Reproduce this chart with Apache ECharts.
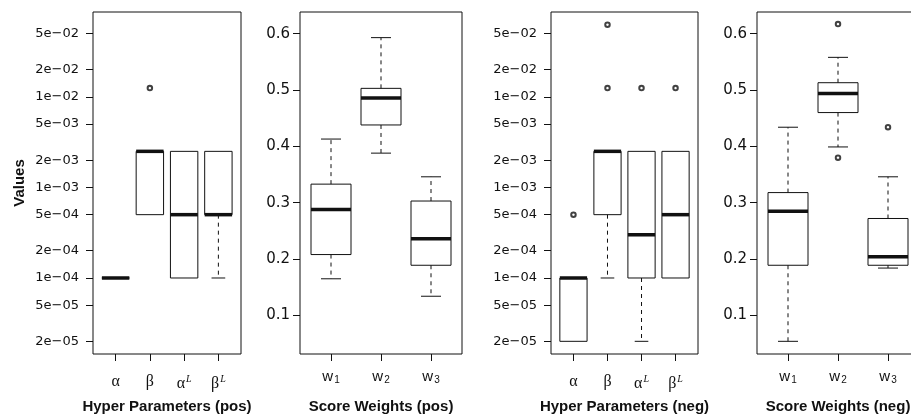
<!DOCTYPE html>
<html>
<head>
<meta charset="utf-8">
<script src="https://cdn.jsdelivr.net/npm/echarts@6/dist/echarts.min.js"></script>
<style>
html,body{margin:0;padding:0;background:#fff;}
#chart{width:911px;height:414px;}
</style>
</head>
<body>
<div id="chart"></div>
<script>
// ---------- DATA ----------
// Category labels (rich-text markup for sub/superscripts)
const hyperCats = ['{g|α}', '{g|β}', '{g|α}{sup|L}', '{g|β}{sup|L}'];
const weightCats = ['{w|w}{sub|1}', '{w|w}{sub|2}', '{w|w}{sub|3}'];

// Box statistics: [lower whisker, Q1, median, Q3, upper whisker]
const hyperPosStats = [
  [1e-4, 1e-4, 1e-4, 1e-4, 1e-4],
  [5e-4, 5e-4, 2.5e-3, 2.5e-3, 2.5e-3],
  [1e-4, 1e-4, 5e-4, 2.5e-3, 2.5e-3],
  [1e-4, 5e-4, 5e-4, 2.5e-3, 2.5e-3]
];
const hyperPosOutliers = [[2, 1.25e-2]];

const weightPosStats = [
  [0.165, 0.208, 0.288, 0.333, 0.413],
  [0.388, 0.438, 0.486, 0.503, 0.593],
  [0.134, 0.189, 0.236, 0.303, 0.346]
];
const weightPosOutliers = [];

const hyperNegStats = [
  [2e-5, 2e-5, 1e-4, 1e-4, 1e-4],
  [1e-4, 5e-4, 2.5e-3, 2.5e-3, 2.5e-3],
  [2e-5, 1e-4, 3e-4, 2.5e-3, 2.5e-3],
  [1e-4, 1e-4, 5e-4, 2.5e-3, 2.5e-3]
];
const hyperNegOutliers = [[1, 5e-4], [2, 1.25e-2], [2, 6.25e-2], [3, 1.25e-2], [4, 1.25e-2]];

const weightNegStats = [
  [0.054, 0.189, 0.285, 0.318, 0.434],
  [0.399, 0.460, 0.494, 0.513, 0.558],
  [0.184, 0.189, 0.204, 0.272, 0.346]
];
const weightNegOutliers = [[2, 0.617], [2, 0.380], [3, 0.434]];

// Tick values / labels
const logTicks = [2e-5, 5e-5, 1e-4, 2e-4, 5e-4, 1e-3, 2e-3, 5e-3, 1e-2, 2e-2, 5e-2];
const logTickLabels = ['2e\u221205', '5e\u221205', '1e\u221204', '2e\u221204', '5e\u221204', '1e\u221203', '2e\u221203', '5e\u221203', '1e\u221202', '2e\u221202', '5e\u221202'];
const linTicks = [0.1, 0.2, 0.3, 0.4, 0.5, 0.6];
const linTickLabels = ['0.1', '0.2', '0.3', '0.4', '0.5', '0.6'];

const logRange = [1.449e-5, 0.0863];
const linRange = [0.0315, 0.6385];

const panelTitles = ['Hyper Parameters (pos)', 'Score Weights (pos)', 'Hyper Parameters (neg)', 'Score Weights (neg)'];
const yTitle = 'Values';

// ---------- STYLE / LAYOUT ----------
const INK = '#111';
const SANS = '"Liberation Sans", Arial, sans-serif';
const TICKFONT = '"DejaVu Sans", "Liberation Sans", sans-serif';
const SERIF = '"Liberation Serif", "DejaVu Serif", serif';
const BOXW = 0.8;
const panels = [
  {left: 93, width: 148, cats: hyperCats, stats: hyperPosStats, out: hyperPosOutliers, log: true, labelMargin: 14, xMargin: 20, tickFont: 13},
  {left: 300, width: 162, cats: weightCats, stats: weightPosStats, out: weightPosOutliers, log: false, labelMargin: 10, xMargin: 14, tickFont: 15},
  {left: 551, width: 147, cats: hyperCats, stats: hyperNegStats, out: hyperNegOutliers, log: true, labelMargin: 14, xMargin: 20, tickFont: 13},
  {left: 757, width: 162, cats: weightCats, stats: weightNegStats, out: weightNegOutliers, log: false, labelMargin: 10, xMargin: 14, tickFont: 15}
];

const richLabels = {
  g: {fontFamily: SERIF, fontSize: 16, color: INK},
  sup: {fontFamily: SERIF, fontSize: 10, fontStyle: 'italic', color: INK, padding: [0, 0, 9, 1]},
  w: {fontFamily: SANS, fontSize: 15, color: INK},
  sub: {fontFamily: SANS, fontSize: 10, color: INK, padding: [7, 0, 0, 1]}
};

function boxRenderer(params, api) {
  const x = api.value(0), lo = api.value(1), q1 = api.value(2), med = api.value(3), q3 = api.value(4), hi = api.value(5);
  const c = (xx, yy) => api.coord([xx, yy]);
  const tl = c(x - BOXW / 2, q3), br = c(x + BOXW / 2, q1);
  const children = [];
  const lineStyle = {stroke: INK, lineWidth: 1};
  const dash = {stroke: INK, lineWidth: 1, lineDash: [4, 4]};
  function seg(a, b, st) {
    return {type: 'line', shape: {x1: a[0], y1: a[1], x2: b[0], y2: b[1]}, style: st};
  }
  if (hi > q3) {
    children.push(seg(c(x, q3), c(x, hi), dash));
    children.push(seg(c(x - BOXW / 4, hi), c(x + BOXW / 4, hi), lineStyle));
  }
  if (lo < q1) {
    children.push(seg(c(x, q1), c(x, lo), dash));
    children.push(seg(c(x - BOXW / 4, lo), c(x + BOXW / 4, lo), lineStyle));
  }
  children.push({type: 'rect', shape: {x: tl[0], y: tl[1], width: br[0] - tl[0], height: br[1] - tl[1]},
    style: {fill: 'none', stroke: INK, lineWidth: 1}});
  children.push(seg(c(x - BOXW / 2, med), c(x + BOXW / 2, med), {stroke: INK, lineWidth: 3.5}));
  return {type: 'group', children: children};
}

const grid = [], xAxis = [], yAxis = [], series = [];
panels.forEach((p, i) => {
  const n = p.cats.length;
  const catIdx = p.cats.map((_, k) => k + 1);
  const pad = n * 0.04;
  grid.push({left: p.left, width: p.width, top: 12, height: 342, show: true, borderColor: INK, borderWidth: 1,
    backgroundColor: 'transparent', containLabel: false, outerBoundsMode: 'none'});
  xAxis.push({
    type: 'value', gridIndex: i, min: 0.5 - pad, max: n + 0.5 + pad,
    axisLine: {show: false}, splitLine: {show: false},
    axisTick: {show: true, customValues: catIdx, length: 7, lineStyle: {color: INK}},
    axisLabel: {show: true, customValues: catIdx, margin: p.xMargin, formatter: v => p.cats[Math.round(v) - 1], rich: richLabels},
    name: panelTitles[i], nameLocation: 'middle', nameGap: 45,
    nameTextStyle: {fontFamily: SANS, fontWeight: 'bold', fontSize: 15, color: INK}
  });
  const ticks = p.log ? logTicks : linTicks;
  const labels = p.log ? logTickLabels : linTickLabels;
  const range = p.log ? logRange : linRange;
  yAxis.push({
    type: p.log ? 'log' : 'value', logBase: 10, gridIndex: i, min: range[0], max: range[1],
    axisLine: {show: false}, splitLine: {show: false},
    axisTick: {show: true, customValues: ticks, length: 7, lineStyle: {color: INK}},
    axisLabel: {show: true, customValues: ticks, margin: p.labelMargin, fontFamily: TICKFONT, fontSize: p.tickFont, color: INK,
      formatter: v => { let k = ticks.findIndex(t => Math.abs(t - v) / t < 1e-6); return k >= 0 ? labels[k] : ''; }},
    name: i === 0 ? yTitle : '', nameLocation: 'middle', nameGap: 66, nameRotate: 90,
    nameTextStyle: {fontFamily: SANS, fontWeight: 'bold', fontSize: 15, color: INK}
  });
  series.push({
    type: 'custom', xAxisIndex: i, yAxisIndex: i, renderItem: boxRenderer,
    encode: {x: 0, y: [1, 2, 3, 4, 5]},
    data: p.stats.map((s, k) => [k + 1].concat(s)), silent: true, animation: false, clip: false
  });
  series.push({
    type: 'scatter', xAxisIndex: i, yAxisIndex: i, symbol: 'emptyCircle', symbolSize: 4.5,
    itemStyle: {color: INK, borderWidth: 1.2}, data: p.out, silent: true, animation: false
  });
});

const chart = echarts.init(document.getElementById('chart'), null, {renderer: 'canvas'});
chart.setOption({backgroundColor: '#fff', animation: false, grid, xAxis, yAxis, series});
</script>
</body>
</html>
